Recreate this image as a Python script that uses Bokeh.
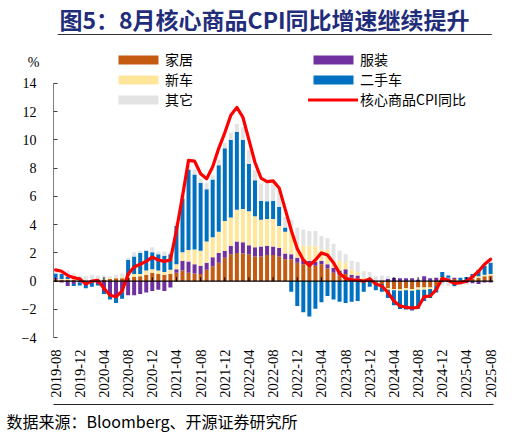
import math
import numpy as np
from bokeh.plotting import figure
from bokeh.layouts import column
from bokeh.models import (ColumnDataSource, Range1d, FixedTicker, Span, Legend,
                          LegendItem, Label, BoxAnnotation, LinearAxis, Title)
from bokeh.embed import file_html
from bokeh.resources import INLINE

# ---------------- data ----------------
title_text = "图5：8月核心商品CPI同比增速继续提升"
source_text = "数据来源：Bloomberg、开源证券研究所"
unit_text = "%"

tick_labels = ["2019-08", "2019-12", "2020-04", "2020-08", "2020-12", "2021-04",
               "2021-08", "2021-12", "2022-04", "2022-08", "2022-12", "2023-04",
               "2023-08", "2023-12", "2024-04", "2024-08", "2024-12", "2025-04",
               "2025-08"]
y_ticks = [-4, -2, 0, 2, 4, 6, 8, 10, 12, 14]

home = [0.1, 0.1, 0.1, 0.1, 0.05, 0.05, 0.05, 0.1, 0.1, 0.15,
        0.2, 0.2, 0.25, 0.3, 0.35, 0.45, 0.6, 0.5, 0.45, 0.5,
        0.6, 0.75, 0.6, 0.55, 0.5, 0.8, 1.05, 1.3, 1.65, 1.9,
        2.0, 1.95, 1.9, 1.75, 1.75, 1.85, 1.85, 1.75, 1.55, 1.55,
        1.3, 1.2, 1.1, 1.1, 1.2, 0.9, 0.6, 0.4, 0.5, 0.25,
        0.2, 0.1, 0.1, -0.1, -0.2, -0.5, -0.55, -0.55, -0.5, -0.55,
        -0.45, -0.45, -0.45, -0.35, 0.25, 0.1, 0.15, 0.05, 0.05, 0.15,
        0.25, 0.35, 0.4]

apparel = [0.15, -0.1, -0.35, -0.2, -0.1, -0.15, -0.1, -0.2, -0.7, -1.0,
           -1.2, -0.8, -1.0, -1.0, -0.9, -0.8, -0.7, -0.6, -0.7, -0.45,
           0.25, 0.7, 0.8, 0.65, 0.6, 0.5, 0.65, 0.7, 0.5, 0.6,
           0.8, 0.8, 0.65, 0.65, 0.7, 0.65, 0.6, 0.6, 0.4, 0.35,
           0.35, 0.35, 0.35, 0.25, 0.25, 0.3, 0.35, 0.35, 0.35, 0.2,
           0.2, 0.0, 0.05, 0.0, 0.05, 0.15, 0.25, 0.2, 0.2, 0.2,
           0.1, 0.35, 0.2, 0.25, -0.1, 0.1, 0.1, -0.1, -0.15, -0.15,
           -0.2, -0.1, -0.1]

new_car = [0.0, 0.05, 0.05, 0.05, 0.0, 0.0, 0.05, 0.0, 0.05, 0.05,
           0.05, 0.1, 0.15, 0.2, 0.15, 0.3, 0.25, 0.25, 0.2, 0.3,
           0.35, 0.6, 0.8, 1.05, 1.05, 1.5, 1.4, 1.5, 2.1, 2.0,
           2.25, 2.35, 2.4, 2.2, 1.9, 1.9, 1.95, 1.55, 1.55, 1.65,
           0.85, 1.0, 1.05, 1.15, 0.8, 1.05, 0.5, 0.7, 0.45, 0.4,
           0.25, 0.15, 0.1, 0.0, 0.0, -0.1, -0.1, -0.12, -0.15, -0.12,
           -0.15, -0.15, -0.1, 0.0, 0.05, 0.05, 0.0, 0.0, 0.0, 0.05,
           0.1, 0.1, 0.1]

used_car = [0.3, 0.35, 0.15, -0.15, -0.2, -0.35, -0.3, -0.1, -0.2, -0.3,
            -0.35, -0.45, 1.1, 1.25, 1.5, 1.4, 1.2, 1.15, 1.15, 1.1,
            2.7, 3.8, 5.7, 5.3, 4.8, 3.7, 4.1, 4.7, 5.15, 5.5,
            5.5, 4.9, 3.35, 2.55, 1.35, 1.25, 1.3, 1.35, 0.3, -0.75,
            -1.75, -2.2, -2.5, -1.95, -1.5, -1.05, -1.3, -1.45, -1.55, -1.45,
            -1.4, -0.75, -0.4, -0.55, -0.55, -0.6, -1.05, -1.3, -1.35, -1.4,
            -1.35, -0.8, -0.65, -0.45, 0.35, 0.15, -0.35, 0.2, 0.25, 0.3,
            0.45, 0.65, 0.8]

other = [0.2, 0.2, 0.45, 0.4, 0.35, 0.3, 0.35, 0.3, 0.25, 0.15,
         0.2, 0.25, 0.15, 0.3, 0.15, 0.1, 0.35, 0.2, 0.3, 0.15,
         0.25, 0.3, 0.3, 0.35, 0.3, 0.45, 0.3, 0.4, 0.4, 0.5,
         0.6, 0.9, 1.0, 0.7, 1.2, 1.3, 1.3, 1.1, 0.75, 0.8,
         1.3, 1.1, 1.05, 1.05, 0.95, 0.8, 1.2, 0.7, 0.6, 0.6,
         0.7, 0.45, 0.4, 0.35, 0.35, 0.2, 0.05, 0.0, 0.0, 0.0,
         0.0, 0.0, 0.0, 0.0, -0.2, -0.35, -0.1, -0.2, -0.1, 0.0,
         0.05, 0.1, 0.15]

core_goods = [0.8, 0.7, 0.4, 0.25, 0.15, -0.2, 0.0, 0.05, -0.5, -1.0,
              -1.1, -0.7, 0.5, 1.0, 1.2, 1.4, 1.7, 1.5, 1.4, 1.5,
              3.6, 6.0, 8.55, 8.5, 7.6, 7.25, 8.1, 9.4, 10.5, 11.75,
              12.3, 11.6, 10.0, 8.4, 7.3, 7.05, 7.1, 6.6, 5.1, 3.6,
              2.3, 1.5, 1.1, 1.5, 2.0, 1.85, 1.3, 0.55, 0.2, 0.1,
              0.07, 0.0, 0.15, -0.2, -0.35, -0.8, -1.4, -1.75, -1.85, -1.9,
              -1.85, -1.1, -1.05, -0.6, 0.2, 0.05, -0.15, -0.1, 0.0, 0.3,
              0.7, 1.2, 1.55]

series_names = ["家居", "服装", "新车", "二手车", "其它"]
series_colors = ["#C55A11", "#7030A0", "#FFE699", "#0070C0", "#E3E3E3"]
line_name = "核心商品CPI同比"

# ---------------- styling constants ----------------
W = 518
SERIF = "Liberation Serif, Times New Roman, serif"
CJK = "Noto Sans CJK SC"
unit_label_y = 15.5          # vertical spot of the "%" unit text (axis units)
BORDER_L, BORDER_R = 53, 25  # main plot frame borders (px)
RULE_L, RULE_R = 5, 516      # page x extent of the title rule (px)
PX_PER_Y = 255 / 18          # vertical scale: -4..14 spans 255 px
AXIS_TO_RULE = 67            # px from the -4 line down to the source rule
LABEL_TOP_GAP = 12           # px from the -4 line to the top of the date labels

# ---------------- title strip ----------------
tfig = figure(width=W, height=40, output_backend="svg", toolbar_location=None,
              x_range=Range1d(0, W), y_range=Range1d(0, 40),
              x_axis_location=None, y_axis_location=None,
              min_border=0, min_border_left=0, min_border_right=0,
              min_border_top=0, min_border_bottom=0)
tfig.outline_line_color = None
tfig.grid.grid_line_color = None
tfig.add_layout(Label(x=7, y=22, text=title_text, text_align="left",
                      text_baseline="middle", text_font=CJK, text_font_size="23px",
                      text_font_style="bold", text_color="#1F2D7A"))
tfig.add_layout(BoxAnnotation(left=RULE_L, right=RULE_R, bottom=5.5, top=6.5,
                              fill_color="#333333", fill_alpha=1, line_color=None))

# ---------------- main chart ----------------
n = len(core_goods)
x = np.arange(n)
tick_pos = list(range(0, n, 4))
x_lo, x_hi = -0.35, n - 0.52
y_lo = y_ticks[0] - AXIS_TO_RULE / PX_PER_Y
y_hi = 16.61

p = figure(width=W, height=394, output_backend="svg", toolbar_location=None,
           x_range=Range1d(x_lo, x_hi), y_range=Range1d(y_lo, y_hi),
           min_border_left=BORDER_L, min_border_right=BORDER_R, min_border_top=6,
           min_border_bottom=29)
p.outline_line_color = None
p.xgrid.grid_line_color = None
p.ygrid.grid_line_color = None
p.background_fill_color = "white"
p.border_fill_color = "white"

pos_base = np.zeros(n)
neg_base = np.zeros(n)
bar_renderers = {}
for name, vals, color in zip(series_names, [home, apparel, new_car, used_car, other],
                             series_colors):
    v = np.array(vals, dtype=float)
    pos = np.clip(v, 0, None)
    neg = np.clip(v, None, 0)
    bottom = np.where(v >= 0, pos_base, neg_base)
    top = np.where(v >= 0, pos_base + pos, neg_base + neg)
    pos_base = pos_base + pos
    neg_base = neg_base + neg
    src = ColumnDataSource(dict(x=x, top=top, bottom=bottom))
    bar_renderers[name] = p.vbar(x="x", top="top", bottom="bottom", width=0.66,
                                 source=src, fill_color=color, line_color=None)

p.add_layout(Span(location=0, dimension="width", line_color="black", line_width=1.3))
p.segment(x0=tick_pos, y0=[0] * len(tick_pos), x1=tick_pos, y1=[0.28] * len(tick_pos),
          line_color="black", line_width=1)

line_r = p.line(x=x, y=core_goods, line_color="#FF0000", line_width=3.2,
                line_join="round", line_cap="round")

# y axis: rule, inward ticks and labels, limited to -4..14
ya = p.yaxis[0]
ya.ticker = FixedTicker(ticks=y_ticks)
ya.bounds = (y_ticks[0], y_ticks[-1])
ya.axis_line_color = "#7F7F7F"
ya.major_tick_in = 4
ya.major_tick_out = 0
ya.major_tick_line_color = "#404040"
ya.minor_tick_line_color = None
ya.major_label_standoff = 17
ya.major_label_text_font = SERIF
ya.major_label_text_font_size = "14px"
ya.major_label_text_color = "black"

# outer axis that only carries the "%" unit above the scale
yb = LinearAxis(ticker=FixedTicker(ticks=[unit_label_y]),
                major_label_overrides={unit_label_y: unit_text},
                axis_line_color=None, major_tick_line_color=None,
                minor_tick_line_color=None, major_tick_in=0, major_tick_out=0,
                major_label_standoff=-21, major_label_text_font=SERIF,
                major_label_text_font_size="14px", major_label_text_color="black")
p.add_layout(yb, "left")

# x axis: its line is the rule above the source; the date labels sit above it
p.xaxis.ticker = FixedTicker(ticks=tick_pos)
p.xaxis.major_label_overrides = {t: lab for t, lab in zip(tick_pos, tick_labels)}
p.xaxis.major_label_orientation = math.pi / 2
p.xaxis.axis_line_color = "#222222"
p.xaxis.axis_line_width = 1
p.xaxis.major_tick_line_color = None
p.xaxis.minor_tick_line_color = None
p.xaxis.major_tick_out = 0
p.xaxis.major_tick_in = 0
p.xaxis.major_label_standoff = LABEL_TOP_GAP - AXIS_TO_RULE
p.xaxis.major_label_text_font = SERIF
p.xaxis.major_label_text_font_size = "14.5px"
p.xaxis.major_label_text_color = "black"

p.add_layout(Title(text=source_text, align="left", offset=RULE_L + 1 - BORDER_L,
                   text_font=CJK, text_font_size="16px", text_font_style="normal",
                   text_color="black", standoff=4), "below")


def make_legend(items, loc):
    return Legend(items=items, location=loc, orientation="vertical", padding=0,
                  margin=0, spacing=0, glyph_width=50, glyph_height=11,
                  label_height=20, label_standoff=2,
                  label_text_font=CJK, label_text_font_size="14px",
                  label_text_color="black", border_line_color=None,
                  background_fill_alpha=0)


legend_bottom = 228 + AXIS_TO_RULE
leg1 = make_legend([LegendItem(label=series_names[0], renderers=[bar_renderers[series_names[0]]]),
                    LegendItem(label=series_names[2], renderers=[bar_renderers[series_names[2]]]),
                    LegendItem(label=series_names[4], renderers=[bar_renderers[series_names[4]]])],
                   (60, legend_bottom))
leg2 = make_legend([LegendItem(label=series_names[1], renderers=[bar_renderers[series_names[1]]]),
                    LegendItem(label=series_names[3], renderers=[bar_renderers[series_names[3]]]),
                    LegendItem(label=line_name, renderers=[line_r])],
                   (255, legend_bottom))
p.add_layout(leg1)
p.add_layout(leg2)

layout = column(tfig, p, spacing=0)
open("out.html", "w").write(file_html(layout, INLINE))
